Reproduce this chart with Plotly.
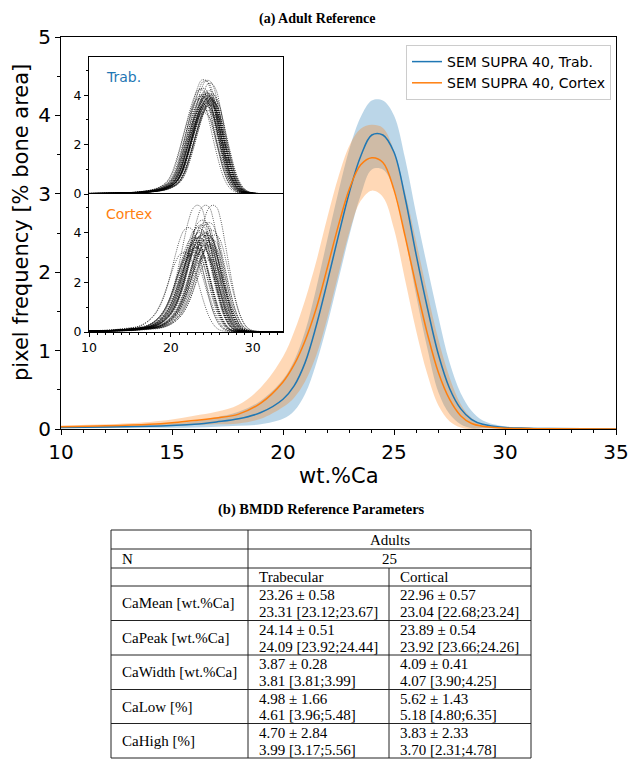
import numpy as np
import plotly.graph_objects as go

W, H = 631, 762

# ---- main panel: mean BMDD curves and +/- SD bands
ca = [10, 12, 14, 15, 16, 17, 18, 19, 20, 20.5, 21, 21.5, 22, 22.5, 23, 23.5,
      24, 24.5, 25, 25.5, 26, 26.5, 27, 27.5, 28, 28.5, 29, 30, 31, 32, 35]
trab_mean = [0.02, 0.025, 0.035, 0.045, 0.06, 0.09, 0.13, 0.21, 0.38, 0.55, 0.85, 1.32,
             1.88, 2.47, 3.03, 3.48, 3.75, 3.75, 3.53, 2.95, 2.22, 1.55, 0.95, 0.52,
             0.26, 0.12, 0.06, 0.02, 0.01, 0.005, 0.0]
trab_sd = [0.01, 0.012, 0.02, 0.03, 0.04, 0.06, 0.09, 0.15, 0.25, 0.32, 0.4, 0.48,
           0.54, 0.56, 0.55, 0.5, 0.44, 0.44, 0.47, 0.5, 0.52, 0.52, 0.48, 0.33,
           0.2, 0.11, 0.05, 0.015, 0.008, 0.004, 0.0]
cort_mean = [0.03, 0.04, 0.06, 0.08, 0.11, 0.14, 0.19, 0.33, 0.6, 0.82, 1.13, 1.54,
             2.06, 2.6, 3.07, 3.37, 3.46, 3.40, 3.05, 2.46, 1.82, 1.22, 0.72, 0.38,
             0.17, 0.07, 0.035, 0.01, 0.005, 0.002, 0.0]
cort_sd = [0.015, 0.02, 0.03, 0.04, 0.06, 0.08, 0.12, 0.2, 0.32, 0.42, 0.52, 0.6,
           0.64, 0.62, 0.55, 0.46, 0.42, 0.44, 0.5, 0.56, 0.57, 0.52, 0.42, 0.28,
           0.15, 0.07, 0.03, 0.008, 0.004, 0.002, 0.0]

# ---- inset: individual specimen curves, given by peak position / height
trab_peak_ref = (24.26, 3.78)
trab_peak_x = [24.0, 24.2, 24.5, 24.8, 23.6, 23.9, 24.4, 24.6, 25.0, 24.3, 24.7, 23.4, 24.1,
               24.9, 24.5, 24.2, 24.6, 25.1, 23.8, 24.4, 24.8, 24.0, 24.3, 24.7, 23.7, 24.5,
               24.1, 24.4, 24.6, 24.9, 24.3, 23.9, 24.7, 24.5, 24.2, 25.0, 24.8, 24.0,
               24.4, 24.6]
trab_peak_h = [4.65, 4.6, 4.62, 4.5, 4.25, 4.3, 4.1, 4.0, 4.05, 3.95, 3.9, 3.85, 3.8,
               3.85, 3.7, 3.6, 3.75, 3.9, 3.5, 3.4, 3.65, 3.3, 4.05, 3.95, 4.0, 3.8,
               3.9, 4.0, 4.1, 3.8, 3.7, 3.95, 4.2, 3.85, 4.15, 3.75, 3.6, 4.05, 3.55, 3.9]
cort_peak_ref = (24.0, 3.46)
cort_peak_x = [23.2, 24.2, 25.1, 23.8, 24.6, 22.1, 21.6, 22.8, 23.5, 24.0, 24.4, 24.9, 23.0,
               23.7, 24.3, 22.5, 23.9, 24.7, 23.3, 24.1, 25.3, 22.9, 23.6, 24.5, 23.1, 24.8,
               23.4, 24.0, 22.7, 25.0, 23.5, 23.8, 24.2, 24.6, 22.4, 23.0, 23.7, 24.4, 24.9,
               23.3, 24.1, 22.9, 23.6, 24.3, 23.9]
cort_peak_h = [5.1, 5.1, 5.1, 4.5, 4.4, 4.2, 3.2, 3.8, 4.0, 4.3, 3.9, 4.1, 3.6,
               3.7, 3.5, 3.3, 3.9, 3.4, 4.2, 3.0, 3.9, 3.7, 4.3, 3.6, 3.4, 2.9,
               3.8, 4.0, 3.5, 3.7, 3.6, 3.9, 3.7, 3.8, 3.1, 3.4, 4.1, 3.9, 3.5,
               3.8, 4.4, 3.2, 3.5, 4.0, 3.3]

# ---- table (b)
col_groups = ["Adults"]
n_subjects = "25"
col_names = ["Trabecular", "Cortical"]
row_names = ["CaMean [wt.%Ca]", "CaPeak [wt.%Ca]", "CaWidth [wt.%Ca]", "CaLow [%]", "CaHigh [%]"]
trab_mean_sd = ["23.26 ± 0.58", "24.14 ± 0.51", "3.87 ± 0.28", "4.98 ± 1.66", "4.70 ± 2.84"]
trab_median = ["23.31 [23.12;23.67]", "24.09 [23.92;24.44]", "3.81 [3.81;3.99]",
               "4.61 [3.96;5.48]", "3.99 [3.17;5.56]"]
cort_mean_sd = ["22.96 ± 0.57", "23.89 ± 0.54", "4.09 ± 0.41", "5.62 ± 1.43", "3.83 ± 2.33"]
cort_median = ["23.04 [22.68;23.24]", "23.92 [23.66;24.26]", "4.07 [3.90;4.25]",
               "5.18 [4.80;6.35]", "3.70 [2.31;4.78]"]

BLUE, ORANGE = "#1f77b4", "#ff7f0e"
SANS = "DejaVu Sans"
SERIF = "Liberation Serif"


def fx(p):
    return p / W


def fy(p):
    return 1 - p / H


fig = go.Figure()

ca_arr = np.array(ca)
for mean, sd, col in [(trab_mean, trab_sd, "rgba(31,119,180,0.3)"),
                      (cort_mean, cort_sd, "rgba(255,127,14,0.3)")]:
    m, s = np.array(mean), np.array(sd)
    fig.add_trace(go.Scatter(x=ca_arr, y=np.clip(m - s, 0, None), mode="lines",
                             line=dict(width=0, shape="spline"), showlegend=False,
                             hoverinfo="skip"))
    fig.add_trace(go.Scatter(x=ca_arr, y=m + s, mode="lines", fill="tonexty",
                             fillcolor=col, line=dict(width=0, shape="spline"),
                             showlegend=False, hoverinfo="skip"))

fig.add_trace(go.Scatter(x=ca, y=trab_mean, mode="lines", name="SEM SUPRA 40, Trab.",
                         line=dict(color=BLUE, width=1.5, shape="spline")))
fig.add_trace(go.Scatter(x=ca, y=cort_mean, mode="lines", name="SEM SUPRA 40, Cortex",
                         line=dict(color=ORANGE, width=1.5, shape="spline")))

# inset curves: mean shape moved to each specimen's peak
for mean, ref, pxs, phs, ax in [(trab_mean, trab_peak_ref, trab_peak_x, trab_peak_h, "2"),
                                (cort_mean, cort_peak_ref, cort_peak_x, cort_peak_h, "3")]:
    m = np.array(mean)
    for p, h in zip(pxs, phs):
        fig.add_trace(go.Scatter(x=ca_arr + (p - ref[0]), y=m * h / ref[1], mode="lines",
                                 line=dict(color="rgba(0,0,0,0.8)", width=0.8,
                                           dash="1px,1.2px", shape="spline"),
                                 xaxis="x" + ax, yaxis="y" + ax, showlegend=False,
                                 hoverinfo="skip"))

axis_common = dict(showline=True, mirror=True, linecolor="black", linewidth=1,
                   ticks="outside", tickcolor="black", tickwidth=1, showgrid=False,
                   zeroline=False, automargin=False)

inset_x = [fx(89), fx(283)]
fig.update_layout(
    width=W, height=H, autosize=False,
    margin=dict(l=0, r=0, t=0, b=0, pad=0),
    paper_bgcolor="white", plot_bgcolor="white",
    font=dict(family=SANS, color="black"),
    xaxis=dict(domain=[fx(61), fx(616)], range=[10, 35], dtick=5, ticklen=5,
               tickfont=dict(size=20), minor=dict(dtick=1, ticks="outside", ticklen=3,
                                                  tickcolor="black"),
               anchor="y", **axis_common),
    yaxis=dict(domain=[fy(429), fy(37)], range=[0, 5], dtick=1, ticklen=5,
               tickfont=dict(size=20), minor=dict(dtick=0.5, ticks="outside", ticklen=3,
                                                  tickcolor="black"),
               anchor="x", **axis_common),
    xaxis2=dict(domain=inset_x, range=[10, 33.7], anchor="y2", showticklabels=False,
                showline=True, mirror=True, linecolor="black", linewidth=1,
                showgrid=False, zeroline=False, ticks="", automargin=False),
    yaxis2=dict(domain=[fy(194), fy(57)], range=[0, 5.55], tickvals=[0, 2, 4], ticklen=4,
                tickfont=dict(size=12.5), minor=dict(dtick=1, ticks="outside", ticklen=2,
                                                     tickcolor="black"),
                anchor="x2", **axis_common),
    xaxis3=dict(domain=inset_x, range=[10, 33.7], tickvals=[10, 20, 30], ticklen=4,
                tickfont=dict(size=12.5), minor=dict(dtick=1, ticks="outside", ticklen=2,
                                                     tickcolor="black"),
                anchor="y3", **axis_common),
    yaxis3=dict(domain=[fy(332), fy(194)], range=[0, 5.55], tickvals=[0, 2, 4], ticklen=4,
                tickfont=dict(size=12.5), minor=dict(dtick=1, ticks="outside", ticklen=2,
                                                     tickcolor="black"),
                anchor="x3", **axis_common),
    legend=dict(x=fx(611), y=fy(45), xanchor="right", yanchor="top", traceorder="normal",
                bgcolor="rgba(255,255,255,0.8)", bordercolor="#cccccc", borderwidth=1,
                font=dict(size=14, family=SANS), itemwidth=30, tracegroupgap=0),
)

ann = []
ann.append(dict(text="<b>(a) Adult Reference</b>", x=fx(317), y=fy(19),
                font=dict(family=SERIF, size=14)))
ann.append(dict(text="pixel frequency [% bone area]", x=fx(21), y=fy(223), textangle=-90,
                font=dict(family=SANS, size=21)))
ann.append(dict(text="wt.%Ca", x=fx(339), y=fy(476), font=dict(family=SANS, size=21)))
ann.append(dict(text="Trab.", x=fx(104), y=fy(77), xanchor="left",
                font=dict(family=SANS, size=14, color=BLUE)))
ann.append(dict(text="Cortex", x=fx(104), y=fy(214), xanchor="left",
                font=dict(family=SANS, size=14, color=ORANGE)))
ann.append(dict(text="<b>(b) BMDD Reference Parameters</b>", x=fx(321), y=fy(509),
                font=dict(family=SERIF, size=14.5)))

# table geometry (pixels)
t_left, t_c1, t_c2, t_right = 111, 248, 389, 531
rows_y = [530, 549, 568, 586, 620.5, 655, 689.5, 723.5, 758]
pad = 9
shapes = []
line = dict(color="#222222", width=1)
for yv in rows_y:
    shapes.append(dict(type="line", xref="paper", yref="paper", x0=fx(t_left), x1=fx(t_right),
                       y0=fy(yv), y1=fy(yv), line=line))
for xv, ytop in [(t_left, rows_y[0]), (t_c1, rows_y[0]), (t_right, rows_y[0]), (t_c2, rows_y[2])]:
    shapes.append(dict(type="line", xref="paper", yref="paper", x0=fx(xv), x1=fx(xv),
                       y0=fy(ytop), y1=fy(rows_y[-1]), line=line))

tfont = dict(family=SERIF, size=15, color="black")
mid = (t_c1 + t_right) / 2
ann.append(dict(text=col_groups[0], x=fx(mid), y=fy((rows_y[0] + rows_y[1]) / 2), font=tfont))
ann.append(dict(text="N", x=fx(t_left + pad), y=fy((rows_y[1] + rows_y[2]) / 2),
                xanchor="left", font=tfont))
ann.append(dict(text=n_subjects, x=fx(mid), y=fy((rows_y[1] + rows_y[2]) / 2), font=tfont))
for c, name in zip([t_c1, t_c2], col_names):
    ann.append(dict(text=name, x=fx(c + pad), y=fy((rows_y[2] + rows_y[3]) / 2),
                    xanchor="left", font=tfont))
for i, name in enumerate(row_names):
    top, bot = rows_y[3 + i], rows_y[4 + i]
    ann.append(dict(text=name, x=fx(t_left + pad), y=fy((top + bot) / 2), xanchor="left",
                    font=tfont))
    for c, a, b in [(t_c1, trab_mean_sd[i], trab_median[i]),
                    (t_c2, cort_mean_sd[i], cort_median[i])]:
        ann.append(dict(text=a, x=fx(c + pad), y=fy(top + 9), xanchor="left", font=tfont))
        ann.append(dict(text=b, x=fx(c + pad), y=fy(bot - 8.5), xanchor="left", font=tfont))

for a in ann:
    a.setdefault("xref", "paper")
    a.setdefault("yref", "paper")
    a.setdefault("showarrow", False)
    a.setdefault("xanchor", "center")
    a.setdefault("yanchor", "middle")

fig.update_layout(annotations=ann, shapes=shapes)
# page body has a default 8px margin; drop it so the figure sits at the top-left corner
fig.write_html("out.html", config={"displayModeBar": False},
               post_script="document.body.style.margin='0px';")
